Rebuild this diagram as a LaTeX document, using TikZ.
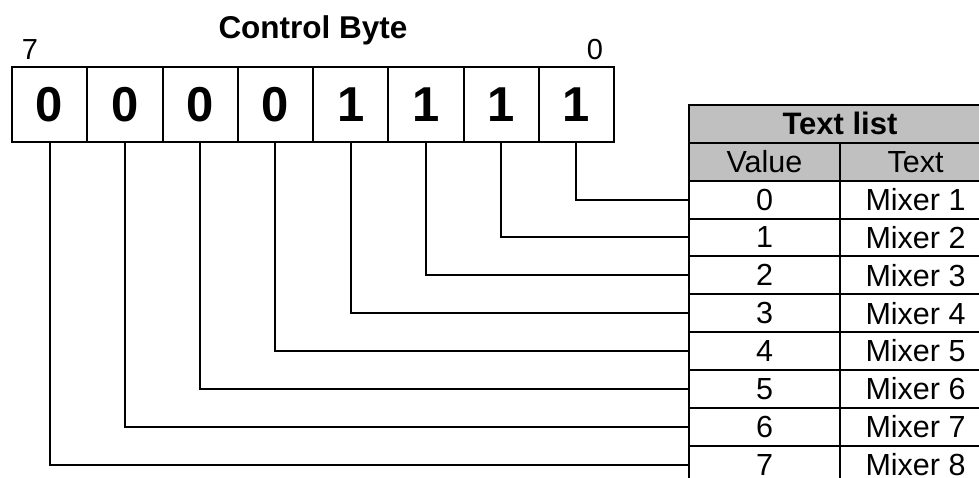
\documentclass[tikz,border=0pt]{standalone}
\usepackage{fontspec}
\setmainfont{Liberation Sans}
\definecolor{hdrgray}{RGB}{192,192,192}
\begin{document}
\begin{tikzpicture}[x=1pt,y=-1pt,
  bitcell/.style={draw,line width=2pt,minimum width=75.25pt,minimum height=75pt,inner sep=0pt,font=\fontsize{49}{49}\selectfont\bfseries},
  tcell/.style={draw,line width=2pt,minimum width=151pt,minimum height=37.85pt,inner sep=0pt,font=\fontsize{30.5}{30.5}\selectfont},
  hcell/.style={tcell,fill=hdrgray},
  wire/.style={line width=2pt}]
\useasboundingbox (0,0) rectangle (979,477);
\clip (0,0) rectangle (979,477);
% title and bit labels
\node[anchor=base,font=\fontsize{31.5}{31.5}\selectfont\bfseries] (title) at (313,38) {Control Byte};
\node[anchor=base,font=\fontsize{29}{29}\selectfont] (l7) at (30,59) {7};
\node[anchor=base,font=\fontsize{29}{29}\selectfont] (l0) at (595,59) {0};
% bit cells: b7 leftmost ... b0 rightmost
\foreach \k/\v [count=\j from 0] in {7/0,6/0,5/0,4/0,3/1,2/1,1/1,0/1}{
  \node[bitcell] (b\k) at ({12+75.25*(\j+0.5)},104.5) {\v};
}
% table
\node[hcell,minimum width=302pt,font=\fontsize{31}{31}\selectfont\bfseries] (head) at (840,123.9) {Text list};
\node[hcell] (hv) at (764.5,161.8) {Value};
\node[hcell] (ht) at (915.5,161.8) {Text};
\foreach \k in {0,...,7}{
  \pgfmathsetmacro{\yy}{199.6+37.85*\k}
  \pgfmathtruncatemacro{\m}{\k+1}
  \node[tcell] (v\k) at (764.5,\yy) {\k};
  \node[tcell] (t\k) at (915.5,\yy) {Mixer \m};
}
% connectors
\foreach \k in {0,...,7}{
  \draw[wire] (b\k.south) |- (v\k.west);
}
\end{tikzpicture}
\end{document}
